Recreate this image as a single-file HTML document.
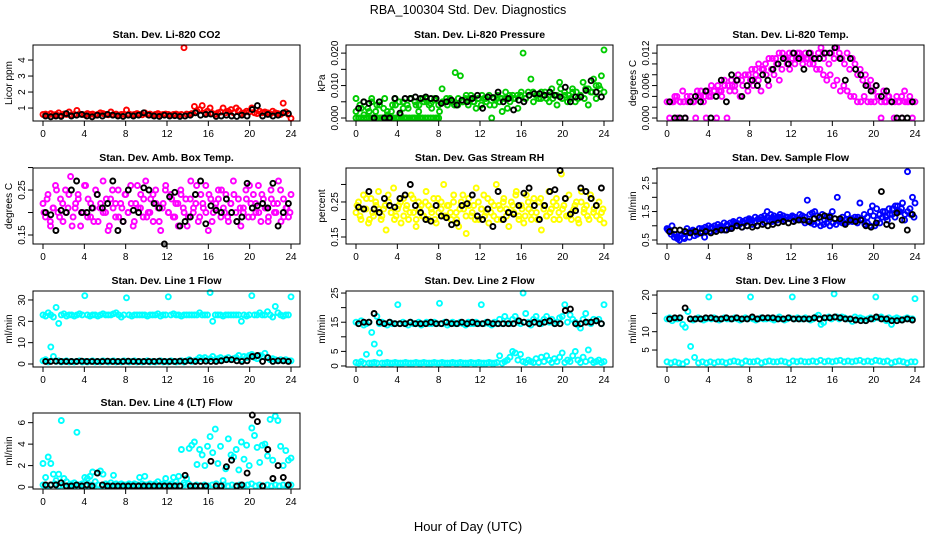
<!DOCTYPE html>
<html><head><meta charset="utf-8">
<style>
body{margin:0;background:#fff;}
svg{display:block;font-family:"Liberation Sans",sans-serif;}
</style></head>
<body>
<svg id="chart" width="936" height="540" viewBox="0 0 936 540" xmlns="http://www.w3.org/2000/svg">
<rect x="0" y="0" width="936" height="540" fill="#fff"/>
<text x="468" y="14" text-anchor="middle" font-size="12.5">RBA_100304  Std. Dev. Diagnostics</text>
<text x="468" y="531" text-anchor="middle" font-size="13">Hour of Day (UTC)</text>
</svg>
<script>
const xTicks=[0,4,8,12,16,20,24];
const co2Red=[0.6,0.62,0.55,0.65,0.58,0.6,0.7,0.55,0.62,0.6,0.75,0.58,0.6,0.85,0.62,0.6,0.58,0.65,0.6,0.62,0.55,0.6,0.7,0.65,0.6,0.58,0.75,0.6,0.62,0.55,0.6,0.6,0.88,0.62,0.58,0.6,0.65,0.6,0.58,0.7,0.6,0.62,0.55,0.6,0.65,0.58,0.6,0.62,0.6,0.55,0.6,0.62,0.58,0.6,4.77,0.62,0.6,0.65,1.1,0.8,0.9,1.15,0.7,0.8,1.0,0.65,0.6,0.7,0.75,1.0,0.7,0.8,0.9,0.7,1.0,0.85,0.65,0.7,0.8,0.75,1.0,0.7,0.65,0.8,0.7,0.75,0.7,0.62,0.8,0.7,0.65,0.6,1.3,0.75,0.6,0.35];
const co2Blk=[0.5,0.45,0.5,0.48,0.65,0.5,0.55,0.6,0.5,0.45,0.55,0.5,0.6,0.55,0.5,0.48,0.55,0.5,0.55,0.7,0.55,0.5,0.48,0.55,0.5,0.52,0.48,0.5,0.55,0.7,0.55,0.6,0.62,0.48,0.5,0.55,0.5,0.48,0.55,0.5,0.9,1.15,0.5,0.6,0.5,0.55,0.7,0.65];
const presA=[0.006,0,0.003,0.005,0,0.002,0.006,0,0.004,0.005,0,0.006,0.002,0,0.004,0.006,0,0.001,0.005,0,0.003,0.006,0,0.004,0.002,0,0.005,0.006,0.004,0.003,0.0055,0,0.002,0.009,0.005,0.004,0.006,0.005,0.014,0.004,0.013,0.005,0.006,0.004,0.007,0.005,0.003,0.006,0.004,0.006,0.005,0.007,0,0.004,0.006,0.005,0.002,0.006,0.003,0.005,0.007,0.006,0.003,0.007,0.02,0.006,0.008,0.012,0.005,0.007,0.006,0.008,0.007,0.006,0.005,0.009,0.007,0.004,0.011,0.006,0.007,0.005,0.006,0.008,0.005,0.006,0.007,0.011,0.009,0.004,0.008,0.012,0.006,0.01,0.013,0.021];
const presB=[0.002,0.004,0.001,0.003,0.005,0.002,0.004,0.003,0.001,0.002,0.004,0.005,0.003,0.004,0.006,0.005,0.004,0.006,0.005,0.0045,0.006,0.004,0.005,0.006,0.005,0.004,0.006,0.005,0.007,0.006,0.005,0.006,0.007,0.006,0.004,0.006,0.007,0.006,0.008,0.007,0.006,0.007,0.008,0.006,0.007,0.008,0.007,0.006,0.008,0.007,0.006,0.007,0.009,0.008,0.007,0.009,0.008,0.007,0.006,0.009,0.008,0.01,0.009,0.008];
const presZero=[0,0,0,0,0,0,0,0,0,0,0,0,0,0,0,0,0,0,0,0,0,0,0,0,0,0,0,0,0,0,0,0];
const presBlk=[0.003,0.005,0.0045,0,0.005,0,0,0.006,0.0015,0.006,0.006,0.0065,0.006,0.0065,0.006,0.006,0.0045,0.005,0.0055,0.004,0.0055,0.005,0.006,0.007,0.003,0.0065,0.0063,0.008,0.005,0.006,0.0025,0.0055,0.005,0.007,0.0075,0.0075,0.007,0.008,0.007,0.0065,0.0095,0.005,0.0065,0.0065,0.0085,0.0115,0.008,0.0065];
const tempA=[0.003,0,0.003,0.004,0,0.003,0.005,0,0.003,0.004,0.003,0,0.004,0.005,0.003,0,0.004,0.006,0.005,0,0.005,0.004,0.007,0,0.005,0.006,0.005,0.007,0.004,0.006,0.008,0.005,0.007,0.006,0.008,0.007,0.005,0.009,0.008,0.006,0.009,0.008,0.01,0.007,0.009,0.011,0.01,0.009,0.011,0.01,0.012,0.011,0.01,0.012,0.011,0.012,0.01,0.011,0.012,0.013,0.011,0.012,0.01,0.012,0.011,0.013,0.012,0.011,0.01,0.012,0.009,0.011,0.01,0.008,0.009,0.007,0.008,0.006,0.007,0.005,0.006,0.004,0,0.005,0.003,0.004,0.003,0,0.004,0.003,0,0.005,0.003,0.004,0,0.003];
const tempB=[0.003,0.003,0.004,0.003,0.003,0.004,0.004,0.003,0.005,0.004,0.004,0.005,0.004,0.005,0.006,0.005,0.006,0.006,0.007,0.006,0.008,0.007,0.008,0.008,0.009,0.009,0.01,0.009,0.01,0.011,0.011,0.011,0.012,0.012,0.011,0.012,0.012,0.011,0.012,0.011,0.011,0.01,0.01,0.009,0.009,0.008,0.007,0.008,0.006,0.007,0.005,0.006,0.005,0.004,0.004,0.003,0.003,0.004,0.003,0.003,0.003,0.004,0.003,0.003,0.004,0.003,0.003,0.003,0.004,0.003,0.003,0.003];
const tempBlk=[0.003,0,0,0,0.003,0.004,0.003,0.005,0,0.004,0.007,0.003,0.008,0.007,0.004,0.006,0.007,0.006,0.008,0.007,0.009,0.01,0.011,0.01,0.012,0.011,0.009,0.012,0.011,0.011,0.012,0.012,0.013,0.011,0.007,0.011,0.009,0.008,0.006,0.005,0.006,0.004,0.005,0.003,0,0,0,0.003];
const boxA=[0.22,0.19,0.24,0.17,0.21,0.26,0.2,0.23,0.18,0.25,0.21,0.28,0.19,0.22,0.24,0.17,0.2,0.26,0.23,0.19,0.21,0.25,0.18,0.22,0.27,0.2,0.16,0.23,0.21,0.19,0.25,0.22,0.18,0.24,0.2,0.26,0.17,0.22,0.21,0.24,0.19,0.27,0.2,0.23,0.18,0.25,0.21,0.16,0.22,0.26,0.2,0.24,0.19,0.22,0.17,0.25,0.21,0.23,0.19,0.27,0.2,0.22,0.18,0.24,0.21,0.26,0.16,0.23,0.2,0.22,0.25,0.19,0.21,0.24,0.18,0.22,0.27,0.2,0.23,0.17,0.21,0.25,0.19,0.22,0.24,0.2,0.26,0.18,0.23,0.21,0.19,0.25,0.22,0.2,0.27,0.18,0.23,0.21,0.19,0.24];
const boxB=[0.2,0.23,0.18,0.21,0.25,0.19,0.22,0.2,0.24,0.17,0.21,0.23,0.2,0.26,0.19,0.22,0.18,0.24,0.21,0.2,0.23,0.17,0.25,0.22,0.19,0.21,0.24,0.2,0.22,0.18,0.26,0.21,0.23,0.19,0.2,0.24,0.22,0.18,0.21,0.25,0.2,0.23,0.19,0.22,0.24,0.2,0.17,0.23,0.21,0.26,0.19,0.22,0.2,0.24,0.18,0.21,0.23,0.25,0.2,0.19,0.22,0.24,0.18,0.21,0.2,0.23,0.26,0.19,0.22,0.2,0.24,0.21,0.18,0.23,0.2,0.22,0.25,0.19,0.21,0.2];
const boxBlk=[0.2,0.195,0.16,0.205,0.2,0.25,0.27,0.2,0.2,0.21,0.24,0.21,0.22,0.27,0.16,0.18,0.25,0.205,0.2,0.255,0.25,0.22,0.21,0.13,0.235,0.245,0.17,0.18,0.19,0.24,0.27,0.175,0.215,0.205,0.2,0.23,0.2,0.18,0.19,0.265,0.21,0.215,0.22,0.21,0.265,0.17,0.2,0.22];
const rhA=[0.22,0.25,0.2,0.27,0.23,0.19,0.26,0.21,0.24,0.28,0.2,0.23,0.17,0.25,0.22,0.29,0.21,0.24,0.19,0.26,0.23,0.2,0.27,0.22,0.18,0.25,0.24,0.21,0.28,0.2,0.23,0.26,0.19,0.22,0.25,0.3,0.21,0.24,0.2,0.27,0.22,0.18,0.25,0.23,0.16,0.26,0.21,0.24,0.29,0.2,0.23,0.27,0.22,0.19,0.25,0.21,0.3,0.24,0.2,0.26,0.23,0.18,0.25,0.22,0.28,0.21,0.24,0.19,0.27,0.23,0.2,0.26,0.22,0.25,0.17,0.24,0.21,0.28,0.23,0.2,0.26,0.22,0.33,0.24,0.21,0.27,0.2,0.23,0.25,0.19,0.28,0.22,0.24,0.2,0.26,0.23,0.21,0.25,0.22,0.19];
const rhB=[0.24,0.21,0.23,0.26,0.2,0.22,0.25,0.23,0.21,0.24,0.27,0.22,0.2,0.23,0.25,0.21,0.24,0.22,0.26,0.2,0.23,0.21,0.25,0.24,0.22,0.2,0.26,0.23,0.21,0.24,0.22,0.25,0.2,0.23,0.27,0.21,0.24,0.22,0.2,0.25,0.23,0.21,0.26,0.22,0.24,0.2,0.23,0.25,0.21,0.22,0.24,0.27,0.2,0.23,0.21,0.25,0.22,0.24,0.2,0.26,0.23,0.21,0.22,0.25,0.24,0.2,0.23,0.26,0.21,0.22,0.24,0.2,0.25,0.23,0.21,0.27,0.22,0.24,0.2,0.23];
const rhBlk=[0.235,0.23,0.28,0.23,0.22,0.26,0.24,0.235,0.26,0.27,0.3,0.24,0.22,0.2,0.195,0.24,0.21,0.205,0.185,0.19,0.24,0.245,0.27,0.21,0.2,0.23,0.18,0.28,0.2,0.22,0.215,0.24,0.275,0.29,0.24,0.2,0.24,0.28,0.285,0.34,0.26,0.215,0.225,0.29,0.28,0.26,0.24,0.29];
const flowA=[0.9,0.8,1.0,0.7,0.6,0.5,0.7,0.55,0.9,0.6,0.8,0.65,0.7,0.9,0.8,0.6,0.85,0.8,0.9,0.85,0.9,0.95,0.9,0.85,1.0,0.9,0.95,1.1,1.0,1.05,0.95,1.1,1.0,1.2,1.05,1.1,1.0,1.15,1.2,1.1,1.5,1.2,1.15,1.25,1.2,1.3,1.25,1.2,1.3,1.25,1.35,1.3,1.25,1.4,1.35,1.3,1.9,1.4,1.45,1.5,1.35,1.3,1.4,1.2,1.3,1.35,1.5,1.25,2.0,1.2,1.3,1.1,1.4,1.2,1.15,1.3,1.1,1.8,1.2,1.05,1.1,1.0,1.7,1.0,1.2,1.1,1.3,1.5,1.2,1.4,1.6,1.3,1.7,1.5,1.8,1.4,2.9,1.6,2.0,1.8];
const flowB=[0.85,0.7,0.6,0.55,0.65,0.6,0.75,0.8,0.85,0.8,0.9,0.9,0.95,1.0,0.95,1.0,1.05,1.0,1.1,1.05,1.1,1.15,1.1,1.2,1.15,1.2,1.25,1.2,1.3,1.25,1.3,1.35,1.3,1.4,1.35,1.3,1.4,1.35,1.3,1.25,1.3,1.2,1.25,1.2,1.1,1.15,1.1,1.05,1.1,1.0,1.05,1.1,1.0,1.1,1.05,1.15,1.1,1.2,1.15,1.25,1.2,1.3,1.25,1.4,1.3,1.5,1.35,1.6,1.4,1.5,1.3,1.6,1.4,1.7,1.5,1.6,1.2,1.5,1.4,1.3];
const flowBlk=[0.8,0.85,0.85,0.8,0.75,0.8,0.75,0.8,0.75,0.8,0.85,0.85,0.9,1.0,0.95,1.0,0.95,1.0,1.05,1.0,1.05,1.1,1.15,1.1,1.15,1.2,1.2,1.15,1.25,1.3,1.35,1.3,1.25,1.25,1.05,1.2,1.15,1.2,1.0,0.95,1.1,2.2,1.05,1.0,1.45,1.2,0.85,1.4];
const l1Up=[23,22.5,24,23,22,26.5,19,23,23.5,22.5,23,23,22.5,23,23.5,23, 32,23,22.5,23,23,22.5,23,23.5,23,23,23,23.5,24,23,22,23, 31,23,22.5,23,23,23,23,23,22.5,23,23,23,23.5,22.5,23,23, 31.5,23,23.5,23,23,22.5,23,23,23,23,23,23,24,23,23,23, 33.5,20,23,23,23,22.5,23,23,23,23,23,23,20,23,22.5,23, 32,23,23,24,23,23,24.5,23,22,27,24,23,22.5,23,23,31.5];
const l1Lo=[1.5,2,1,8,3.5,1.2,1.5,1,1.2,1.5,1,1.2,1,1.2,1.5,1,1.2,1,1.2,1.5,1,1.2,1,1.5,1.2,1,1.2,1.5,1,1.2,1,1.5,1.2,1,1.2,1.5,1,1.2,1,1.2,1.5,1,1.2,1,1.2,1.5,1,1.2,1,1.5,1.2,1,1.2,1.5,1,1.5,2,1.2,1.5,2,3,2.5,3,2,2.5,3.5,2,2.5,3,2,2.5,3,2,2.5,3,4,2,3.5,3,4,4.5,3,2.5,4,3.5,5,3,2,2.5,2,1.5,2,1.5,2,1.5,1.5];
const l1Blk=[1.2,1.2,1.3,1.2,1.2,1.2,1.2,1.3,1.2,1.2,1.2,1.2,1.3,1.2,1.2,1.2,1.3,1.2,1.2,1.2,1.2,1.2,1.3,1.2,1.2,1.2,1.3,1.2,1.5,1.2,1.2,1.3,1.2,1.2,1.5,2,2,1.5,1.2,1.5,3.5,4,1.2,3,1.2,1.5,1.5,1.2];
const l2Up=[15,14.5,15.5,14,14.5,15,11.5,7.5,17,14.5,15,14.5,14,15,14.5,14.5, 21,14.5,15,14.5,14,15,14.5,14.5,15,14,14.5,15,14.5,14.5,15,14.5, 21.5,14.5,15,14,14.5,15,14.5,14.5,15,14.5,14,15,14.5,14.5,15,14.5, 21,14.5,15,14.5,14,15,14.5,16,14.5,17,15.5,14.5,16,17,15,14.5, 25,18,15,14,16,17,15,14.5,16,17,15,16,14.5,15,16.5,17, 21,15,17.5,16,15,14,13,16,18,15,14.5,16,15.5,16,14.5,21];
const l2Lo=[1.2,1,1.5,1,4,1,1,1.2,1,4.5,1,1,1.2,1,1,1.2,1,1,1,1.2,1,1,1,1.2,1,1,1.2,1,1,1,1.2,1,1,1.2,1,1,1,1.2,1,1,1.2,1,1,1,1.2,1,1,1.2,1,1,1,1.2,1,1,1.2,3.5,1,1.5,2,3,5,4.5,2,4,1.5,1.2,2,1.5,1.2,2.5,1.2,3,1.5,3.5,2,1.2,2.5,1.5,3,4.5,1.2,2,1.5,3.5,5,2,1.2,3,1.5,5.5,2,1.2,1.5,2,1.2,1.5];
const l2Blk=[14.5,15,15,18,15,14.5,15,14.5,14.5,14.5,15,14.5,14.5,14.5,15,14.5,14.5,15,14.5,14.5,15,14.5,15,14.5,14.5,15,14.5,14.5,14.5,14.5,14.5,15.5,15,14.5,15,14.5,15,15.5,14.5,14.5,19,19.5,14.5,14.5,15,15,15.5,14.5];
const l3Up=[13.5,13.8,13,13.5,13.5,13.8,12,11.2,15.5,13.5,13.2,13.5,13.8,13.5,13.2,13.5, 19.5,13.5,13.8,13.5,13.2,13.5,13.8,13.5,13.5,13.5,13.8,13.5,13.2,13.5,13.8,13.5, 19.5,13.5,13.2,13.5,13.8,13.5,13.5,13.8,13.5,13.2,13.5,14,13.5,13.2,13.5,13.8, 19.5,13.5,13.8,13.5,13.5,13.8,13.5,13.2,13.5,14,14.5,12,12.5,13.8,14,13.5, 20.3,14,13.5,14,13.8,13.5,13.5,12.8,14,13.5,13.8,13.5,13,13.5,13.8,13.5, 19.5,13.8,14,13.5,13,13.8,12,13.5,13.8,13.5,13.2,13.5,13.8,13.5,13.5,19];
const l3Lo=[1.8,1.5,1.8,1.5,1.2,1.8,6,3,1.5,1.8,1.5,1.8,1.5,1.8,1.8,1.5,1.8,2,1.8,1.5,2,1.8,1.8,2,1.5,1.8,2,1.8,1.8,2,1.8,1.5,2,1.8,2,1.8,1.8,2,1.8,2.2,1.8,2,1.8,2,2.2,1.8,2,1.8,2,2.2,1.8,2,1.8,2.2,2,1.8,2,1.5,1.8,2,1.8,1.5,1.8,1.8];
const l3Blk=[13.5,13.8,13.8,16.5,13.5,13.5,13.5,13.8,13.8,13.5,13.5,13.8,13.5,13.8,13.5,13.5,14,13.5,13.8,13.8,13.8,13.5,13.5,13.8,13.5,13.5,13.5,13.5,13.8,13.5,13.8,13.8,14,13.8,13.5,13.5,13.2,13,13,13.5,14,13.5,13.5,13,13,13.2,13.5,13.2];
const l4A=[2.2,0.9,2.8,2.2,1.2,0.6,1.2,6.2,0.8,0.5,0.2,0.3,0.4,5.1,0.2,0.3, 0.9,0.8,1.0,1.4,0.5,1.3,1.5,1.2,0.3,0.2,0.4,1.1,0.3,0.2,0.3,0.2, 0.2,0.3,0.2,0.3,0.2,0.9,0.3,1.0,0.2,0.3,0.2,0.3,0.5,0.2,0.3,0.8, 0.2,0.3,0.9,0.5,1.0,3.5,0.4,0.8,3.6,3.9,4.2,2.1,3.5,3.0,2.0,3.8, 4.7,3.2,5.4,2.2,3.8,0.6,1.7,4.5,3.0,2.8,3.5,1.6,4.2,2.6,3.9,2.0, 5.5,4.8,3.7,2.3,3.9,4.0,2.9,6.3,2.5,6.6,6.2,3.8,2.0,3.4,2.5,2.7];
const l4Lo=[0.2,0.1,0.2,0.3,0.1,0.2,0.1,0.2,0.1,0.2,0.3,0.1,0.2,0.1,0.2,0.1,0.2,0.1,0.2,0.1,0.2,0.1,0.2,0.1,0.2,0.1,0.2,0.1,0.2,0.1,0.2,0.1,0.2,0.1,0.2,0.1,0.2,0.3,0.1,0.2,0.1,0.2,0.1,0.2,0.3,0.1,0.2,0.1,0.2,0.1,0.2,0.1,0.2,0.3,0.1,0.2,0.1,0.2,0.1,0.2,0.1,0.2,0.1,0.2];
const l4Blk=[0.2,0.2,0.2,0.4,0.1,0.1,0.2,0.1,0.2,0.1,1.3,0.2,0.1,0.1,0.1,0.1,0.1,0.1,0.1,0.1,0.1,0.1,0.1,0.1,0.1,0.1,0.1,1.1,0.1,0.1,0.1,0.1,2.4,0.1,0.1,1.9,2.5,0.1,0.2,1.3,6.7,6.1,0.1,3.5,0.8,2.0,0.9,0.2];

const yTicksP1=[1,2,3,4]; const yLabP1=["1","2","3","4"];
const yTicksP2=[0,0.005,0.01,0.015,0.02]; const yLabP2=["0.000","","0.010","","0.020"];
const yTicksP3=[0,0.002,0.004,0.006,0.008,0.01,0.012]; const yLabP3=["0.000","","","0.006","","","0.012"];
const yTicksP4=[0.15,0.2,0.25,0.3]; const yLabP4=["0.15","","0.25",""];
const yTicksP5=[0.15,0.2,0.25,0.3]; const yLabP5=["0.15","","0.25",""];
const yTicksP6=[0.5,1,1.5,2,2.5,3]; const yLabP6=["0.5","","1.5","","2.5",""];
const yTicksP7=[0,10,20,30]; const yLabP7=["0","10","20","30"];
const yTicksP8=[0,5,10,15,20,25]; const yLabP8=["0","5","","15","","25"];
const yTicksP9=[5,10,15,20]; const yLabP9=["5","10","","20"];
const yTicksP10=[0,2,4,6]; const yLabP10=["0","2","4","6"];

const NS="http://www.w3.org/2000/svg";
const svg=document.getElementById('chart');
function mk(tag,attrs,parent){const e=document.createElementNS(NS,tag);for(const k in attrs)e.setAttribute(k,attrs[k]);(parent||svg).appendChild(e);return e;}

const panels=[
 {key:"co2",title:"Stan. Dev. Li-820 CO2",unit:"Licor ppm",col:0,row:0,dom:[0.19,4.94],yt:yTicksP1,yl:yLabP1,series:[[co2Red,"#ff0000",0,24],[co2Blk,"#000",0.25,23.75]]},
 {key:"pressure",title:"Stan. Dev. Li-820 Pressure",unit:"kPa",col:1,row:0,dom:[-0.00092,0.0225],yt:yTicksP2,yl:yLabP2,series:[[presZero,"#00cc00",0,8],[presA,"#00cc00",0,24],[presB,"#00cc00",0,24],[presBlk,"#000",0.25,23.75]]},
 {key:"temp",title:"Stan. Dev. Li-820 Temp.",unit:"degrees C",col:2,row:0,dom:[-0.00055,0.0135],yt:yTicksP3,yl:yLabP3,series:[[tempA,"#ff00ff",0,24],[tempB,"#ff00ff",0.3,23.7],[tempBlk,"#000",0.25,23.75]]},
 {key:"ambbox",title:"Stan. Dev. Amb. Box Temp.",unit:"degrees C",col:0,row:1,dom:[0.13,0.299],yt:yTicksP4,yl:yLabP4,series:[[boxA,"#ff00ff",0,24],[boxB,"#ff00ff",0.1,23.9],[boxBlk,"#000",0.25,23.75]]},
 {key:"rh",title:"Stan. Dev. Gas Stream RH",unit:"percent",col:1,row:1,dom:[0.13,0.347],yt:yTicksP5,yl:yLabP5,series:[[rhA,"#ffff00",0,24],[rhB,"#ffff00",0.1,23.9],[rhBlk,"#000",0.25,23.75]]},
 {key:"sampleflow",title:"Stan. Dev. Sample Flow",unit:"ml/min",col:2,row:1,dom:[0.36,3.03],yt:yTicksP6,yl:yLabP6,series:[[flowA,"#0000ff",0,24],[flowB,"#0000ff",0.1,23.9],[flowBlk,"#000",0.25,23.75]]},
 {key:"line1",title:"Stan. Dev. Line 1 Flow",unit:"ml/min",col:0,row:2,dom:[-1.4,34.2],yt:yTicksP7,yl:yLabP7,series:[[l1Up,"#00ffff",0,24],[l1Lo,"#00ffff",0,24],[l1Blk,"#000",0.25,23.75]]},
 {key:"line2",title:"Stan. Dev. Line 2 Flow",unit:"ml/min",col:1,row:2,dom:[-0.35,25.7],yt:yTicksP8,yl:yLabP8,series:[[l2Up,"#00ffff",0,24],[l2Lo,"#00ffff",0,24],[l2Blk,"#000",0.25,23.75]]},
 {key:"line3",title:"Stan. Dev. Line 3 Flow",unit:"ml/min",col:2,row:2,dom:[0.37,21.1],yt:yTicksP9,yl:yLabP9,series:[[l3Up,"#00ffff",0,24],[l3Lo,"#00ffff",0,24],[l3Blk,"#000",0.25,23.75]]},
 {key:"line4",title:"Stan. Dev. Line 4 (LT) Flow",unit:"ml/min",col:0,row:3,dom:[-0.18,6.9],yt:yTicksP10,yl:yLabP10,series:[[l4Lo,"#00ffff",0,24],[l4A,"#00ffff",0,24],[l4Blk,"#000",0.25,23.75]]}
];
const colLeft=[33,346,657], rowTop=[45,168,291,413], W=267, H=76;

panels.forEach(p=>{
  const L=colLeft[p.col], T=rowTop[p.row], B=T+H;
  const g=mk('g',{});
  
  
  const xs=h=>L+10+h*248/24;
  const ys=v=>B-(v-p.dom[0])/(p.dom[1]-p.dom[0])*H;
  const t=mk('text',{x:L+W/2,y:T-7,'text-anchor':'middle','font-size':'10.5','font-weight':'bold'},g);
  t.textContent=p.title;
  
  
  const pts=mk('g',{fill:'none','stroke-width':'1.9'},g);
  
  
  p.series.forEach(s=>{
    const arr=s[0], n=arr.length;
    arr.forEach((v,i)=>{
      const h=s[2]+(n>1?i*(s[3]-s[2])/(n-1):0);
      const c=mk('circle',{cx:xs(h).toFixed(1),cy:ys(v).toFixed(1),r:2.5,stroke:s[1]},pts);
      
      
    });
  });
  const box=mk('rect',{x:L,y:T,width:W,height:H,fill:'none',stroke:'#000','stroke-width':'1'},g);
  
  
  xTicks.forEach(h=>{
    const x=xs(h);
    const tk=mk('line',{x1:x,x2:x,y1:B,y2:B+5,stroke:'#000'},g);
    
    
    const tl=mk('text',{x:x,y:B+16,'text-anchor':'middle','font-size':'10'},g);
    tl.textContent=String(h);
    
    
  });
  p.yt.forEach((v,i)=>{
    const y=ys(v);
    const tk=mk('line',{x1:L-5,x2:L,y1:y,y2:y,stroke:'#000'},g);
    
    
    if(p.yl[i]){
      const tl=mk('text',{x:0,y:0,'text-anchor':'middle','font-size':'10',transform:`translate(${L-8},${y}) rotate(-90)`},g);
      tl.textContent=p.yl[i];
      
      
    }
  });
  const ut=mk('text',{x:0,y:0,'text-anchor':'middle','font-size':'10',transform:`translate(${L-21},${T+H/2}) rotate(-90)`},g);
  ut.textContent=p.unit;
  
  
});
</script>
</body></html>
